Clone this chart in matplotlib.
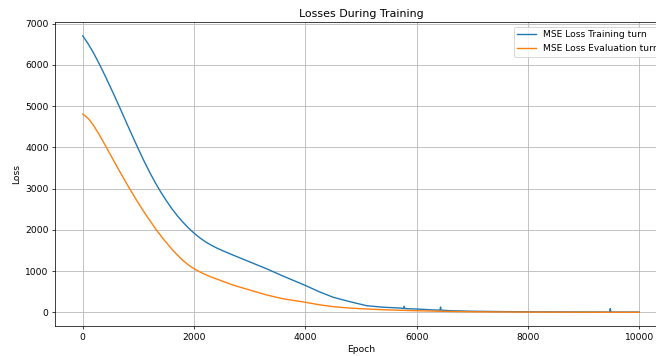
import numpy as np
import matplotlib
matplotlib.use("Agg")
from matplotlib import pyplot as plt

# training loss
train_epochs = [0, 100, 200, 300, 400, 500, 600, 700, 800, 900, 1000, 1100, 1200, 1300,
                1400, 1500, 1600, 1700, 1800, 1900, 2000, 2100, 2200, 2300, 2400, 2500,
                2700, 3000, 3300, 3600, 4000, 4250, 4500, 4800, 5100, 5400, 5700,
                5760, 5775, 5790, 6000, 6300, 6420, 6430, 6440, 6600, 7000, 7500, 8000,
                8500, 9000, 9470, 9480, 9490, 10000]
train_loss = [6700, 6500, 6270, 6010, 5735, 5450, 5155, 4855, 4550, 4250, 3955, 3670, 3400, 3150,
              2920, 2710, 2515, 2340, 2185, 2045, 1920, 1810, 1715, 1635, 1565, 1503,
              1389, 1224, 1059, 880, 653, 500, 367, 260, 163, 125, 106,
              95, 150, 92, 82, 60, 55, 130, 55, 41, 28, 20, 15,
              12, 10, 9, 90, 9, 8]

# evaluation loss
eval_epochs = [0, 100, 200, 300, 420, 500, 600, 700, 841, 950, 1050, 1150, 1321, 1450,
               1600, 1700, 1800, 1900, 2000, 2100, 2200, 2300, 2500, 2700, 3000, 3300,
               3600, 4000, 4250, 4500, 4800, 5100, 5500, 6000, 6500, 7000,
               8000, 9000, 10000]
eval_loss = [4807, 4697, 4517, 4297, 4009, 3813, 3568, 3328, 2999, 2754, 2539, 2334, 2000, 1774,
             1534, 1389, 1259, 1149, 1059, 984, 919, 862, 762, 662, 542, 424,
             330, 245, 185, 139, 105, 82, 60, 41, 25, 15,
             8, 5, 3]

# big figure drawn at low dpi, like a downscaled screenshot
fig = plt.figure(figsize=(656 / 66, 356 / 66), dpi=66)
ax = fig.add_axes([0.0838, 0.084, 0.933, 0.854])

ax.plot(train_epochs, train_loss, label="MSE Loss Training turn")
ax.plot(eval_epochs, eval_loss, label="MSE Loss Evaluation turn")

ax.set_title("Losses During Training")
ax.set_xlabel("Epoch")
ax.set_ylabel("Loss")
ax.set_xticks([0, 2000, 4000, 6000, 8000, 10000])
ax.grid(True)
ax.legend(loc="upper right")

fig.savefig("out.png", dpi=66)
